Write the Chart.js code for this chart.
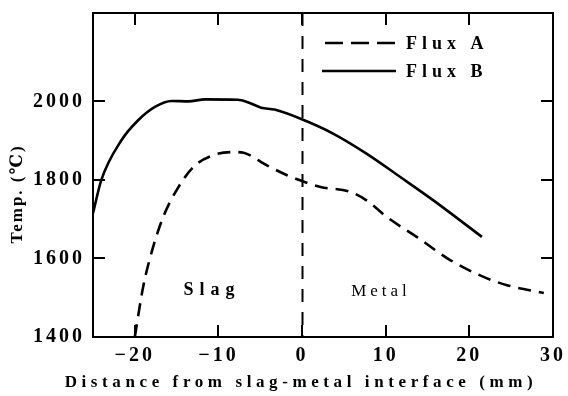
<!DOCTYPE html>
<html><head><meta charset="utf-8">
<script src="https://cdn.jsdelivr.net/npm/chart.js@4/dist/chart.umd.min.js"></script>
<style>html,body{margin:0;padding:0;background:#fff}#wrap{width:568px;height:396px}</style>
</head><body><div id="wrap"><canvas id="c" width="568" height="396"></canvas></div>
<script>
// ---- data ----
const fluxAX = [-20, -19, -17.8, -16.6, -15, -13, -10.6, -8.2, -7.0, -4.2, -1.8, 0, 2.2, 5.7, 7.7, 10.1, 13.7, 17.7, 21.7, 24.5, 28.9];
const fluxAT = [1400, 1528, 1630, 1706, 1774, 1833, 1863, 1871, 1869, 1837, 1812, 1797, 1782, 1770, 1748, 1706, 1655, 1596, 1553, 1532, 1512];
const fluxBX = [-25, -24.0, -21.6, -19.6, -17.6, -15.6, -13.6, -11.6, -7.7, -6.5, -4.9, -3.3, -0.1, 3.7, 7.7, 11.7, 15.7, 21.5];
const fluxBT = [1715, 1800, 1901, 1952, 1986, 2001, 2000, 2005, 2004, 1998, 1984, 1979, 1955, 1918, 1867, 1808, 1748, 1655];
const seriesNames = ['Flux A', 'Flux B'];
const xTicks = [-20, -10, 0, 10, 20, 30];
const yTicks = [1400, 1600, 1800, 2000];
const xRange = [-25, 30];
const yRange = [1400, 2225];
const interfaceX = 0;
const regionLabels = ['Slag', 'Metal'];
const xTitle = 'Distance from slag-metal interface (mm)';
const yTitle = 'Temp. (\u2103)';

const SERIF = '"Liberation Serif", "DejaVu Serif", serif';
const pts = (xs, ys) => xs.map((x, i) => ({x: x, y: ys[i]}));

const decor = {
  id: 'decor',
  beforeDraw(chart) { chart.ctx.letterSpacing = '3px'; },
  beforeDatasetsDraw(chart) {
    const ctx = chart.ctx, a = chart.chartArea, xs = chart.scales.x;
    const px = Math.round(xs.getPixelForValue(interfaceX)) + 0.5;
    ctx.save();
    ctx.strokeStyle = '#000'; ctx.lineWidth = 2; ctx.setLineDash([13, 10]);
    ctx.beginPath(); ctx.moveTo(px, a.top); ctx.lineTo(px, a.bottom); ctx.stroke();
    ctx.restore();
  },
  afterDraw(chart) {
    const ctx = chart.ctx;
    ctx.save();
    ctx.strokeStyle = '#000'; ctx.fillStyle = '#000';
    // legend
    const ds = chart.data.datasets;
    const legY = [43, 71];
    ds.forEach((d, i) => {
      ctx.save();
      ctx.lineWidth = d.borderWidth;
      ctx.setLineDash(i === 0 ? [18, 8] : []);
      ctx.beginPath(); ctx.moveTo(i === 0 ? 325 : 322, legY[i]); ctx.lineTo(396, legY[i]); ctx.stroke();
      ctx.restore();
      ctx.font = 'bold 18px ' + SERIF;
      ctx.letterSpacing = '5px';
      ctx.textAlign = 'left'; ctx.textBaseline = 'middle';
      ctx.fillText(d.label, 406, legY[i] + 1);
    });
    // region labels
    ctx.textAlign = 'center'; ctx.textBaseline = 'middle';
    ctx.font = 'bold 18px ' + SERIF; ctx.letterSpacing = '6px';
    ctx.fillText(regionLabels[0], 212, 290);
    ctx.font = '17px ' + SERIF; ctx.letterSpacing = '4px';
    ctx.fillText(regionLabels[1], 381, 292);
    // axis titles
    ctx.font = 'bold 17px ' + SERIF; ctx.letterSpacing = '4.6px';
    ctx.fillText(xTitle, 301, 383);
    ctx.save();
    ctx.translate(18, 194); ctx.rotate(-Math.PI / 2);
    ctx.font = 'bold 17px ' + SERIF; ctx.letterSpacing = '2px';
    ctx.fillText(yTitle, 0, 0);
    ctx.restore();
    ctx.restore();
    ctx.letterSpacing = '0px';
  }
};

const tickFont = {family: SERIF, size: 20, weight: 'bold'};
const inwardGrid = {display: true, drawOnChartArea: false, drawTicks: true, tickLength: -12, lineWidth: 2, color: '#000'};
const frameBorder = {display: true, width: 2, color: '#000'};
const noPad = s => { s.paddingLeft = 0; s.paddingRight = 0; s.paddingTop = 0; s.paddingBottom = 0; };

new Chart(document.getElementById('c'), {
  type: 'line',
  data: {
    datasets: [
      {label: seriesNames[0], data: pts(fluxAX, fluxAT), borderColor: '#000', borderWidth: 2.6,
       borderDash: [13, 8], pointRadius: 0, fill: false, cubicInterpolationMode: 'monotone'},
      {label: seriesNames[1], data: pts(fluxBX, fluxBT), borderColor: '#000', borderWidth: 2.6,
       pointRadius: 0, fill: false, cubicInterpolationMode: 'monotone'}
    ]
  },
  options: {
    responsive: false, animation: false, devicePixelRatio: 1,
    layout: {padding: {top: 13, right: 15, left: 0, bottom: 0}},
    plugins: {legend: {display: false}, tooltip: {enabled: false}},
    scales: {
      x: {type: 'linear', position: 'bottom', min: xRange[0], max: xRange[1],
          afterBuildTicks: s => { s.ticks = xTicks.map(v => ({value: v})); },
          afterFit: s => { s.height = 59; noPad(s); },
          grid: inwardGrid, border: frameBorder,
          ticks: {font: tickFont, color: '#000', padding: 19, autoSkip: false, maxRotation: 0,
                  callback: v => (v < 0 ? '\u2212' + Math.abs(v) : String(v))}},
      x2: {type: 'linear', position: 'top', min: xRange[0], max: xRange[1],
          afterBuildTicks: s => { s.ticks = xTicks.map(v => ({value: v})); },
          afterFit: s => { s.height = 0; noPad(s); },
          grid: inwardGrid, border: frameBorder, ticks: {display: false}},
      y: {type: 'linear', position: 'left', min: yRange[0], max: yRange[1],
          afterBuildTicks: s => { s.ticks = yTicks.map(v => ({value: v})); },
          afterFit: s => { s.width = 93; noPad(s); },
          grid: inwardGrid, border: frameBorder,
          ticks: {font: tickFont, color: '#000', padding: 20, autoSkip: false,
                  callback: v => String(v)}},
      y2: {type: 'linear', position: 'right', min: yRange[0], max: yRange[1],
          afterBuildTicks: s => { s.ticks = yTicks.map(v => ({value: v})); },
          afterFit: s => { s.width = 0; noPad(s); },
          grid: inwardGrid, border: frameBorder, ticks: {display: false}}
    }
  },
  plugins: [decor]
});
</script></body></html>
